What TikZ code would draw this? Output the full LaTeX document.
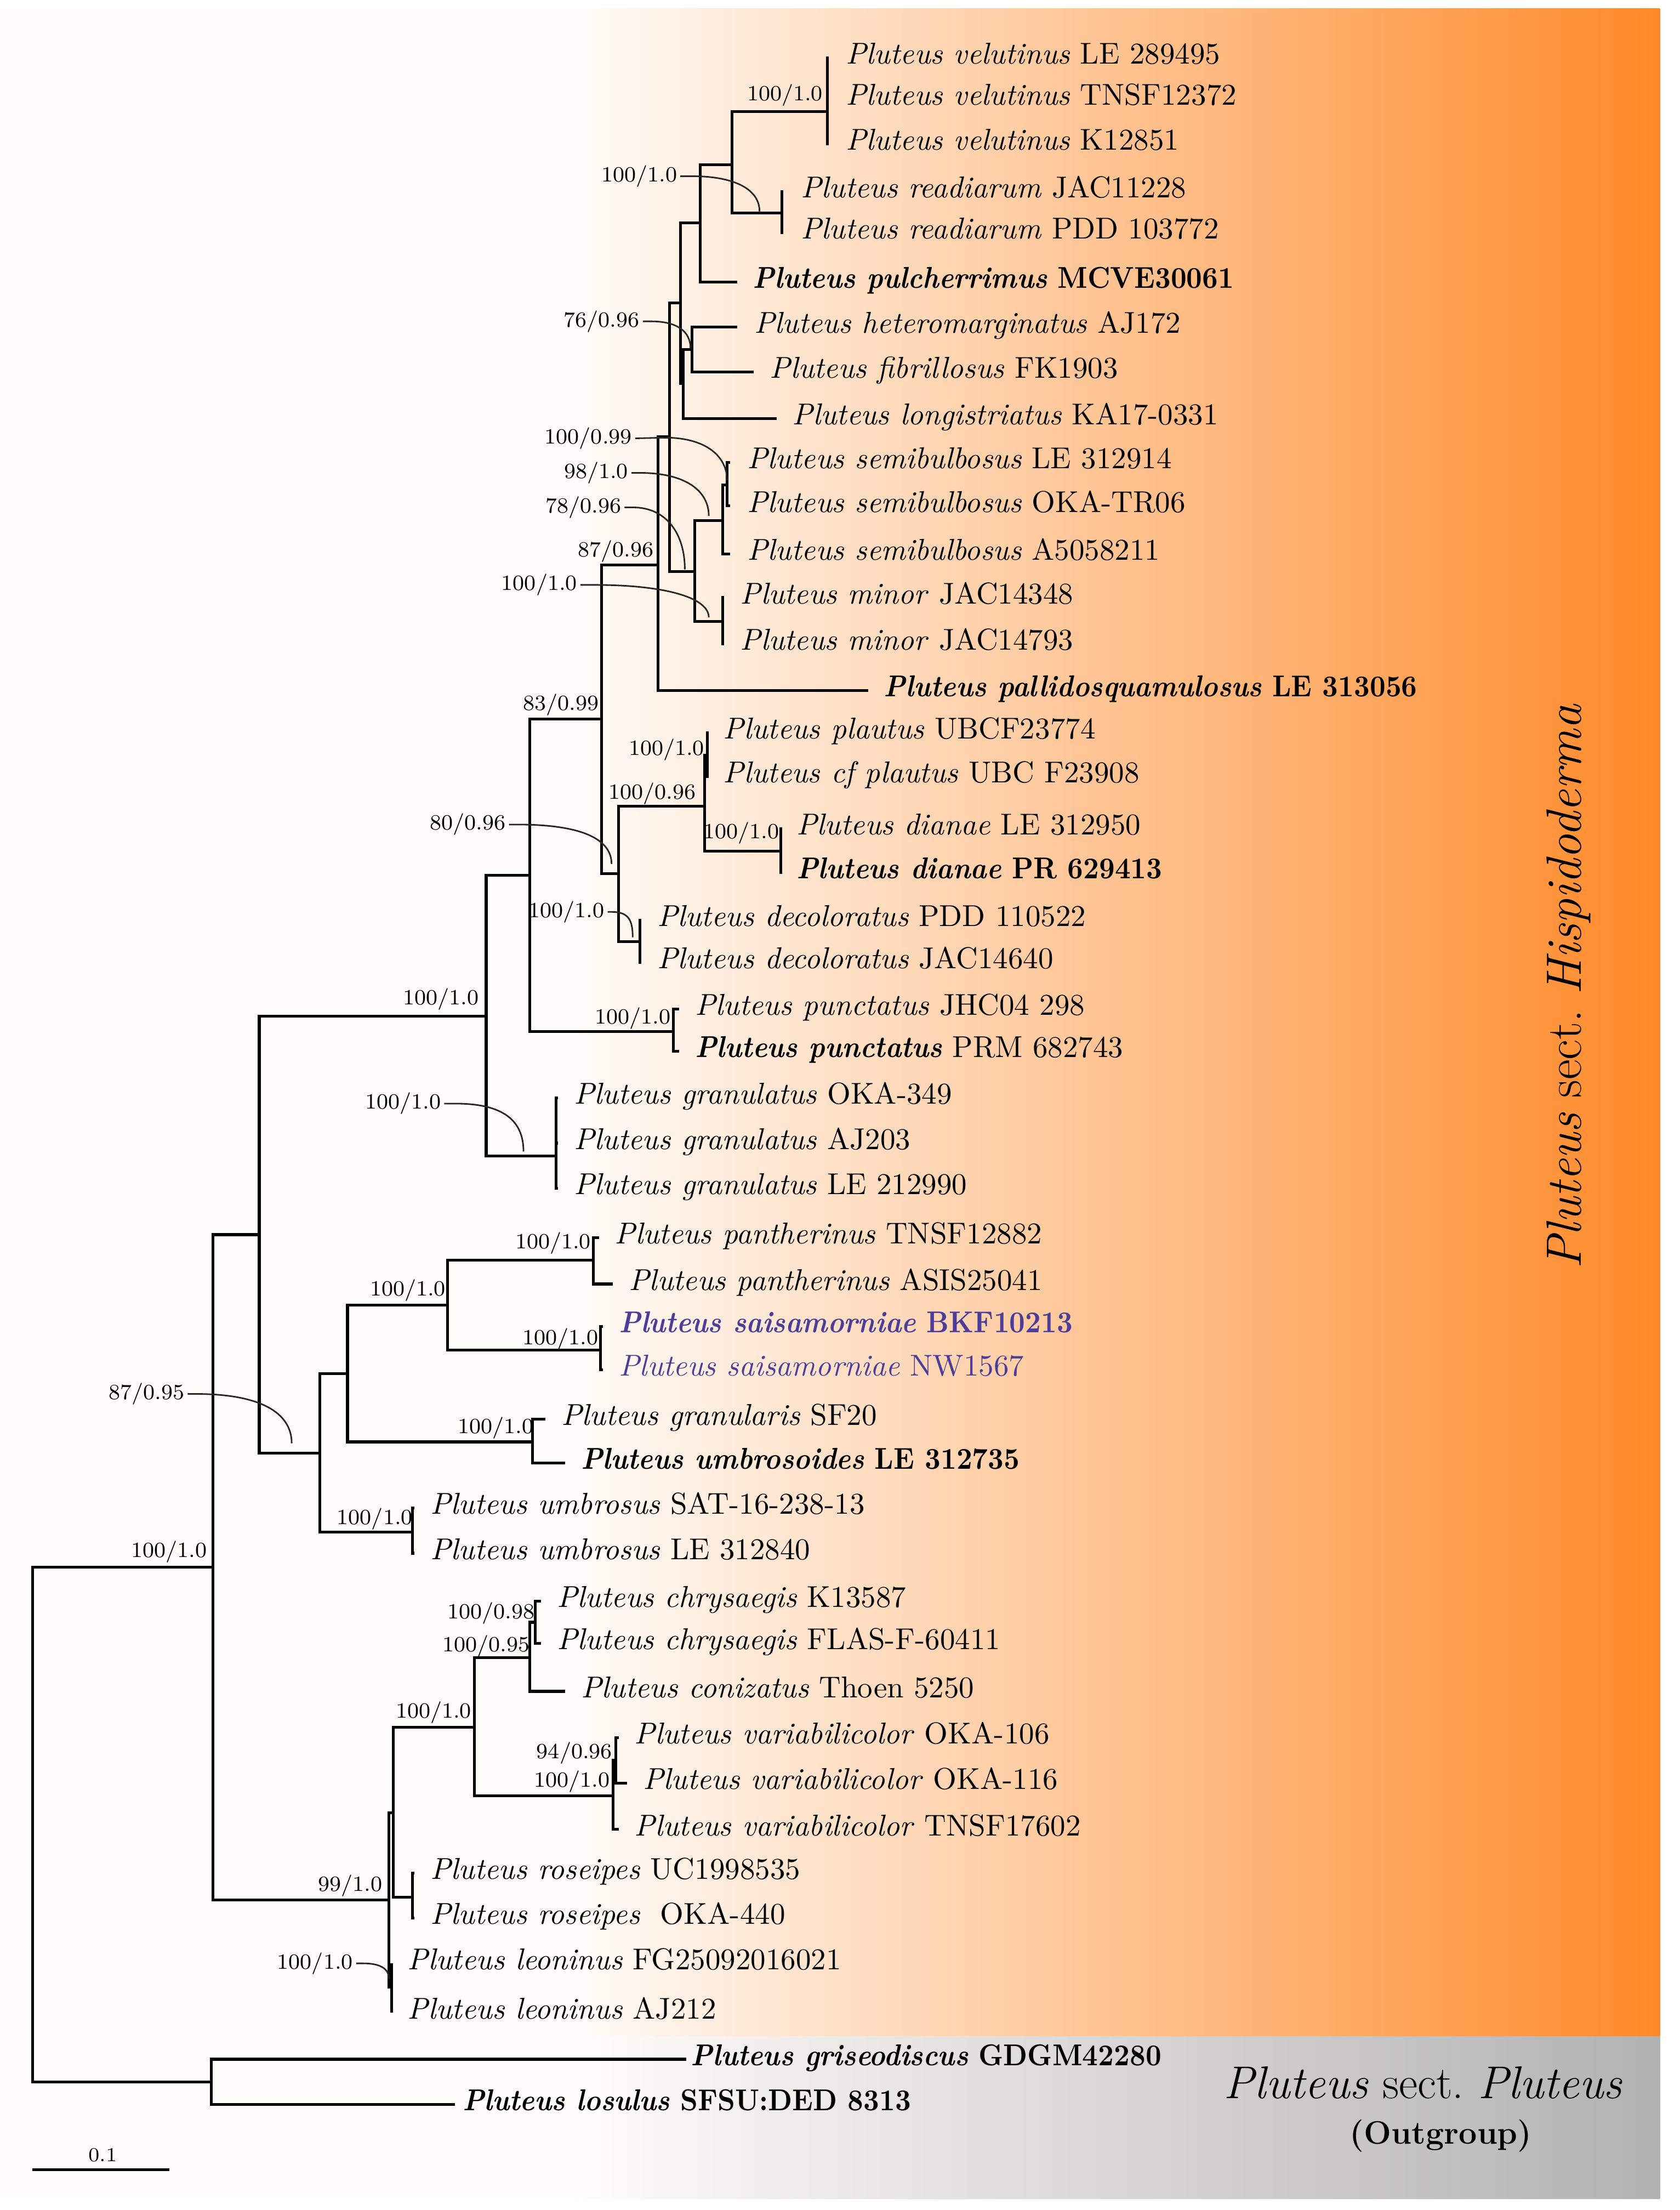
\documentclass[tikz,border=0pt]{standalone}
\usepackage{fontspec}
\usepackage{graphicx}
\definecolor{creamc}{RGB}{255,252,249}
\definecolor{orangec}{RGB}{255,137,40}
\definecolor{grayc}{RGB}{178,178,178}
\definecolor{saisc}{RGB}{76,62,152}
\newcommand{\taxfont}{\fontsize{10.7}{12}\selectfont}
\newcommand{\supfont}{\fontsize{7.7}{9}\selectfont}
\newcommand{\bsc}[1]{\scalebox{0.91}[1]{\bfseries #1}}
\newcommand{\taxon}[5]{\coordinate (#1e) at (#2,#3); \node[taxon] (#1) at (#4,#3) {#5};}
\begin{document}
\begin{tikzpicture}[x=0.5pt,y=-0.5pt,
  br/.style={line width=1pt},
  taxon/.style={anchor=mid west, inner sep=0pt, font=\taxfont},
  supp/.style={inner sep=0pt, font=\supfont},
  lead/.style={line width=0.55pt, black!85}]
% background
\path[use as bounding box] (0,0) rectangle (1192,1568);
\fill[white] (0,0) rectangle (1192,1568);
\fill[creamc] (0,6) rectangle (1178,1560);
\shade[left color=creamc, right color=orangec] (410,6) rectangle (1178,1445);
\shade[left color=creamc, right color=grayc] (410,1445) rectangle (1178,1560);
% group labels
\node[rotate=90, anchor=base, inner sep=0pt, font=\fontsize{17.6}{20}\selectfont] (hisp) at (1122,700) {\textit{Pluteus} sect.\ \textit{Hispidoderma}};
\node[anchor=base, inner sep=0pt, font=\fontsize{16.3}{19}\selectfont] (plut) at (1010,1489) {\textit{Pluteus} sect.\ \textit{Pluteus}};
\node[anchor=base, inner sep=0pt, font=\fontsize{11.5}{14}\selectfont\bfseries] (outg) at (1022.5,1521) {(Outgroup)};
% taxa
\taxon{v1}{588}{41}{600}{\textit{Pluteus velutinus} LE 289495}
\taxon{v2}{588}{70}{600}{\textit{Pluteus velutinus} TNSF12372}
\taxon{v3}{588}{102}{600}{\textit{Pluteus velutinus} K12851}
\taxon{r1}{556}{136}{568}{\textit{Pluteus readiarum} JAC11228}
\taxon{r2}{556}{165}{568}{\textit{Pluteus readiarum} PDD 103772}
\taxon{pul}{523}{200}{534}{\bsc{\textit{Pluteus pulcherrimus} MCVE30061}}
\taxon{het}{523}{232}{535}{\textit{Pluteus heteromarginatus} AJ172}
\taxon{fib}{535}{264}{546}{\textit{Pluteus fibrillosus} FK1903}
\taxon{lon}{551}{297}{562}{\textit{Pluteus longistriatus} KA17-0331}
\taxon{s1}{518}{328}{530}{\textit{Pluteus semibulbosus} LE 312914}
\taxon{s2}{518}{359}{530}{\textit{Pluteus semibulbosus} OKA-TR06}
\taxon{s3}{518}{393}{530}{\textit{Pluteus semibulbosus} A5058211}
\taxon{m1}{514}{424}{525}{\textit{Pluteus minor} JAC14348}
\taxon{m2}{514}{457}{525}{\textit{Pluteus minor} JAC14793}
\taxon{pal}{616}{490}{627}{\bsc{\textit{Pluteus pallidosquamulosus} LE 313056}}
\taxon{pl1}{503}{520}{513}{\textit{Pluteus plautus} UBCF23774}
\taxon{pl2}{503}{551}{513}{\textit{Pluteus cf plautus} UBC F23908}
\taxon{d1}{555}{588}{565}{\textit{Pluteus dianae} LE 312950}
\taxon{d2}{555}{619}{565}{\bsc{\textit{Pluteus dianae} PR 629413}}
\taxon{dc1}{455}{653}{466}{\textit{Pluteus decoloratus} PDD 110522}
\taxon{dc2}{455}{683}{466}{\textit{Pluteus decoloratus} JAC14640}
\taxon{pu1}{482}{716}{493}{\textit{Pluteus punctatus} JHC04 298}
\taxon{pu2}{482}{746}{493}{\bsc{\textit{Pluteus punctatus}} PRM 682743}
\taxon{g1}{396}{779}{407}{\textit{Pluteus granulatus} OKA-349}
\taxon{g2}{396}{811}{407}{\textit{Pluteus granulatus} AJ203}
\taxon{g3}{396}{843}{407}{\textit{Pluteus granulatus} LE 212990}
\taxon{pa1}{425}{878}{436}{\textit{Pluteus pantherinus} TNSF12882}
\taxon{pa2}{435}{911}{446}{\textit{Pluteus pantherinus} ASIS25041}
\taxon{sa1}{428}{941}{439}{\color{saisc}\bsc{\textit{Pluteus saisamorniae} BKF10213}}
\taxon{sa2}{428}{972}{439}{\color{saisc}\textit{Pluteus saisamorniae} NW1567}
\taxon{gr}{387}{1007}{398}{\textit{Pluteus granularis} SF20}
\taxon{um}{401}{1038}{412}{\bsc{\textit{Pluteus umbrosoides} LE 312735}}
\taxon{ub1}{294}{1070}{305}{\textit{Pluteus umbrosus} SAT-16-238-13}
\taxon{ub2}{294}{1102}{305}{\textit{Pluteus umbrosus} LE 312840}
\taxon{c1}{384}{1136}{395}{\textit{Pluteus chrysaegis} K13587}
\taxon{c2}{384}{1166}{395}{\textit{Pluteus chrysaegis} FLAS-F-60411}
\taxon{co}{401}{1200}{412}{\textit{Pluteus conizatus} Thoen 5250}
\taxon{va1}{439}{1233}{450}{\textit{Pluteus variabilicolor} OKA-106}
\taxon{va2}{445}{1265}{456}{\textit{Pluteus variabilicolor} OKA-116}
\taxon{va3}{439}{1298}{450}{\textit{Pluteus variabilicolor} TNSF17602}
\taxon{ro1}{294}{1329}{305}{\textit{Pluteus roseipes} UC1998535}
\taxon{ro2}{294}{1361}{305}{\textit{Pluteus roseipes}\ \ OKA-440}
\taxon{le1}{278}{1393}{289}{\textit{Pluteus leoninus} FG25092016021}
\taxon{le2}{278}{1428}{289}{\textit{Pluteus leoninus} AJ212}
\taxon{gri}{487}{1461}{490}{\bsc{\textit{Pluteus griseodiscus} GDGM42280}}
\taxon{los}{323}{1493}{328}{\bsc{\textit{Pluteus losulus} SFSU:DED 8313}}
% internal nodes
\coordinate (vel) at (587,79);
\coordinate (rd) at (555,151);
\coordinate (n519) at (519.5,117);
\coordinate (n497) at (497,158);
\coordinate (n491) at (491,248);
\coordinate (n485) at (485,272);
\coordinate (n483) at (483,215);
\coordinate (s516) at (516,344);
\coordinate (n513) at (513,369.5);
\coordinate (m513) at (513,441);
\coordinate (n493) at (493,405.5);
\coordinate (n475) at (475,310);
\coordinate (n467) at (467,401);
\coordinate (pl502) at (502,536);
\coordinate (d554) at (554,604);
\coordinate (n500) at (500,572);
\coordinate (dc454) at (454,668);
\coordinate (n439) at (439,620);
\coordinate (n427) at (427,510);
\coordinate (pu478) at (478,732);
\coordinate (n376) at (376,621);
\coordinate (g394) at (394.5,820);
\coordinate (n345) at (345,721);
\coordinate (pa421) at (421,894);
\coordinate (sa426) at (426,958);
\coordinate (n317) at (317.5,926);
\coordinate (gr378) at (378,1023);
\coordinate (n246) at (246.6,974.5);
\coordinate (ub292) at (292.6,1087);
\coordinate (n227) at (227,1031);
\coordinate (n184) at (184,876);
\coordinate (c380) at (380,1151);
\coordinate (cc376) at (376,1176);
\coordinate (vain) at (437,1249);
\coordinate (va435) at (435,1274);
\coordinate (n336) at (336.6,1225.5);
\coordinate (ro292) at (292.6,1346);
\coordinate (n279) at (279,1286);
\coordinate (le278) at (278,1410);
\coordinate (n276) at (276,1348);
\coordinate (n151) at (151,1112);
\coordinate (og) at (150,1477);
\coordinate (root) at (23,1294.5);
% branches
\draw[br] (root) |- (n151); \draw[br] (root) |- (og);
\draw[br] (n151) |- (n184); \draw[br] (n151) |- (n276);
\draw[br] (n184) |- (n345); \draw[br] (n184) |- (n227);
\draw[br] (n345) |- (n376); \draw[br] (n345) |- (g394);
\draw[br] (n376) |- (n427); \draw[br] (n376) |- (pu478);
\draw[br] (n427) |- (n467); \draw[br] (n427) |- (n439);
\draw[br] (n467) |- (n475); \draw[br] (n467) |- (pale);
\draw[br] (n475) |- (n483); \draw[br] (n475) |- (n493);
\draw[br] (n483) |- (n497); \draw[br] (n483) |- (n485);
\draw[br] (n497) |- (n519); \draw[br] (n497) |- (pule);
\draw[br] (n519) |- (vel); \draw[br] (n519) |- (rd);
\draw[br] (vel) |- (v1e); \draw[br] (vel) |- (v2e); \draw[br] (vel) |- (v3e);
\draw[br] (rd) |- (r1e); \draw[br] (rd) |- (r2e);
\draw[br] (n485) |- (n491); \draw[br] (n485) |- (lone);
\draw[br] (n491) |- (hete); \draw[br] (n491) |- (fibe);
\draw[br] (n493) |- (n513); \draw[br] (n493) |- (m513);
\draw[br] (n513) |- (s516); \draw[br] (n513) |- (s3e);
\draw[br] (s516) |- (s1e); \draw[br] (s516) |- (s2e);
\draw[br] (m513) |- (m1e); \draw[br] (m513) |- (m2e);
\draw[br] (n439) |- (n500); \draw[br] (n439) |- (dc454);
\draw[br] (n500) |- (pl502); \draw[br] (n500) |- (d554);
\draw[br] (pl502) |- (pl1e); \draw[br] (pl502) |- (pl2e);
\draw[br] (d554) |- (d1e); \draw[br] (d554) |- (d2e);
\draw[br] (dc454) |- (dc1e); \draw[br] (dc454) |- (dc2e);
\draw[br] (pu478) |- (pu1e); \draw[br] (pu478) |- (pu2e);
\draw[br] (g394) |- (g1e); \draw[br] (g394) |- (g2e); \draw[br] (g394) |- (g3e);
\draw[br] (n227) |- (n246); \draw[br] (n227) |- (ub292);
\draw[br] (n246) |- (n317); \draw[br] (n246) |- (gr378);
\draw[br] (n317) |- (pa421); \draw[br] (n317) |- (sa426);
\draw[br] (pa421) |- (pa1e); \draw[br] (pa421) |- (pa2e);
\draw[br] (sa426) |- (sa1e); \draw[br] (sa426) |- (sa2e);
\draw[br] (gr378) |- (gre); \draw[br] (gr378) |- (ume);
\draw[br] (ub292) |- (ub1e); \draw[br] (ub292) |- (ub2e);
\draw[br] (n276) |- (n279); \draw[br] (n276) |- (le278);
\draw[br] (n279) |- (n336); \draw[br] (n279) |- (ro292);
\draw[br] (n336) |- (cc376); \draw[br] (n336) |- (va435);
\draw[br] (cc376) |- (c380); \draw[br] (cc376) |- (coe);
\draw[br] (c380) |- (c1e); \draw[br] (c380) |- (c2e);
\draw[br] (va435) |- (vain); \draw[br] (va435) |- (va3e);
\draw[br] (vain) |- (va1e); \draw[br] (vain) |- (va2e);
\draw[br] (ro292) |- (ro1e); \draw[br] (ro292) |- (ro2e);
\draw[br] (le278) |- (le1e); \draw[br] (le278) |- (le2e);
\draw[br] (og) |- (grie); \draw[br] (og) |- (lose);
% support values
\node[supp] (sv) at (557,67.5) {100/1.0};
\node[supp] (sr) at (453.6,125) {100/1.0};
\node[supp] (s76) at (427,228) {76/0.96};
\node[supp] (s99a) at (417.5,311) {100/0.99};
\node[supp] (s98) at (423,335.5) {98/1.0};
\node[supp] (s78) at (414,360) {78/0.96};
\node[supp] (s87) at (437,391) {87/0.96};
\node[supp] (sm) at (382.7,415) {100/1.0};
\node[supp] (s83) at (398,500) {83/0.99};
\node[supp] (spl) at (473,532) {100/1.0};
\node[supp] (s96) at (463,563) {100/0.96};
\node[supp] (s80) at (332,585) {80/0.96};
\node[supp] (sd) at (526,591) {100/1.0};
\node[supp] (sdc) at (402,647) {100/1.0};
\node[supp] (sgrp) at (313,709) {100/1.0};
\node[supp] (spu) at (449,722.5) {100/1.0};
\node[supp] (sg) at (286,783) {100/1.0};
\node[supp] (spa) at (392.5,882) {100/1.0};
\node[supp] (sps) at (289.4,915.5) {100/1.0};
\node[supp] (ssa) at (397.7,950) {100/1.0};
\node[supp] (s95) at (104,989) {87/0.95};
\node[supp] (sgr) at (351.7,1013) {100/1.0};
\node[supp] (sub) at (266,1077.6) {100/1.0};
\node[supp] (sin) at (120,1101) {100/1.0};
\node[supp] (sc98) at (348.5,1144.5) {100/0.98};
\node[supp] (sc95) at (345,1168) {100/0.95};
\node[supp] (scv) at (307.7,1215) {100/1.0};
\node[supp] (s94) at (407.6,1243.7) {94/0.96};
\node[supp] (sva) at (406,1264) {100/1.0};
\node[supp] (s99) at (248.5,1338) {99/1.0};
\node[supp] (sle) at (223.6,1393) {100/1.0};
% leader targets
\coordinate (tr) at (539,150);
\coordinate (t76) at (490,247);
\coordinate (t99a) at (516,341);
\coordinate (t98) at (503,366);
\coordinate (t78) at (486,404);
\coordinate (tm) at (503,438);
\coordinate (t80) at (434,613);
\coordinate (tdc) at (449,665);
\coordinate (tg) at (371.5,817);
\coordinate (t95) at (207,1024);
\coordinate (tle) at (276,1404);
\draw[lead] ([xshift=1pt]sr.east) -- ++(8,0) .. controls +(30,0) and +(0,-16) .. (tr);
\draw[lead] ([xshift=1pt]s76.east) -- ++(6,0) .. controls +(18,0) and +(0,-12) .. (t76);
\draw[lead] ([xshift=1pt]s99a.east) -- (472,310.5) .. controls +(28,0) and +(0,-18) .. (t99a);
\draw[lead] ([xshift=1pt]s98.east) -- ++(6,0) .. controls +(32,0) and +(0,-18) .. (t98);
\draw[lead] ([xshift=1pt]s78.east) -- ++(6,0) .. controls +(24,0) and +(0,-25) .. (t78);
\draw[lead] ([xshift=1pt]sm.east) -- ++(10,0) .. controls +(50,0) and +(0,-14) .. (tm);
\draw[lead] ([xshift=1pt]s80.east) -- ++(6,0) .. controls +(45,0) and +(0,-18) .. (t80);
\draw[lead] ([xshift=1pt]sdc.east) -- ++(3,0) .. controls +(12,0) and +(0,-12) .. (tdc);
\draw[lead] ([xshift=1pt]sg.east) -- ++(8,0) .. controls +(34,0) and +(0,-22) .. (tg);
\draw[lead] ([xshift=1pt]s95.east) -- ++(6,0) .. controls +(45,0) and +(0,-22) .. (t95);
\draw[lead] ([xshift=1pt]sle.east) -- ++(5,0) .. controls +(14,0) and +(0,-6) .. (tle);
% scale bar
\coordinate (sb1) at (22.8,1539.5);
\coordinate (sb2) at (120.1,1539.5);
\draw[br] (sb1) -- (sb2);
\node[supp, font=\fontsize{7}{8}\selectfont] (sbl) at (73,1529) {0.1};
\end{tikzpicture}
\end{document}
